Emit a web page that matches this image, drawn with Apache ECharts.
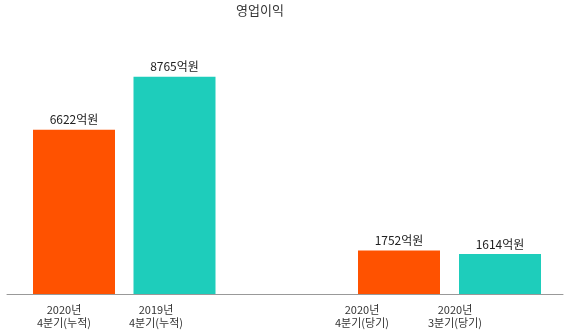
<!DOCTYPE html>
<html><head><meta charset="utf-8">
<script src="https://cdn.jsdelivr.net/npm/echarts@6/dist/echarts.min.js"></script>
<style>html,body{margin:0;padding:0;background:#fff}#c{width:572px;height:335px}</style>
</head><body><div id="c"></div>
<script>
const title = '영업이익';
const categories = ['2020년\n4분기(누적)', '2019년\n4분기(누적)', '2020년\n4분기(당기)', '2020년\n3분기(당기)'];
const values = [6622, 8765, 1752, 1614];
const colors = ['#FF5200', '#1ECDBB', '#FF5200', '#1ECDBB'];
const unit = '억원';
const yMax = 10000;

const FONT = '"Noto Sans CJK KR", sans-serif';
const chart = echarts.init(document.getElementById('c'));
const gridTop = 46, gridBottom = 41;
const items = values.map((v, i) => ({ value: v, itemStyle: { color: colors[i] } }));
const hiddenY = (gi) => ({ type: 'value', gridIndex: gi, min: 0, max: yMax, show: false });
const barSeries = (gi, data) => ({
  type: 'bar', xAxisIndex: gi, yAxisIndex: gi, data, barWidth: 82,
  label: { show: true, position: 'top', distance: 4, color: '#222', fontSize: 12, fontFamily: FONT,
    formatter: p => p.value + unit }
});
chart.setOption({
  animation: false,
  title: { text: title, left: 236, top: 4, padding: 0, textStyle: { fontSize: 13, fontWeight: 'normal', color: '#333', fontFamily: FONT } },
  grid: [
    { left: 7, right: 9, top: gridTop, bottom: gridBottom },
    { left: 23.75, width: 201, top: gridTop, bottom: gridBottom },
    { left: 348.5, width: 202, top: gridTop, bottom: gridBottom },
    { left: 18, width: 184, top: gridTop, bottom: gridBottom },
    { left: 315.5, width: 186, top: gridTop, bottom: gridBottom }
  ],
  xAxis: [
    { type: 'category', gridIndex: 0, data: [''], axisLine: { lineStyle: { color: '#999' } }, axisTick: { show: false }, axisLabel: { show: false } },
    { type: 'category', gridIndex: 1, data: categories.slice(0, 2), show: false },
    { type: 'category', gridIndex: 2, data: categories.slice(2, 4), show: false },
    { type: 'category', gridIndex: 3, data: categories.slice(0, 2), axisLine: { show: false }, axisTick: { show: false },
      axisLabel: { color: '#333', fontSize: 11, lineHeight: 13, margin: 9, fontFamily: FONT, interval: 0 } },
    { type: 'category', gridIndex: 4, data: categories.slice(2, 4), axisLine: { show: false }, axisTick: { show: false },
      axisLabel: { color: '#333', fontSize: 11, lineHeight: 13, margin: 9, fontFamily: FONT, interval: 0 } }
  ],
  yAxis: [hiddenY(0), hiddenY(1), hiddenY(2), hiddenY(3), hiddenY(4)],
  series: [
    barSeries(1, items.slice(0, 2)),
    barSeries(2, items.slice(2, 4))
  ]
});
</script></body></html>
